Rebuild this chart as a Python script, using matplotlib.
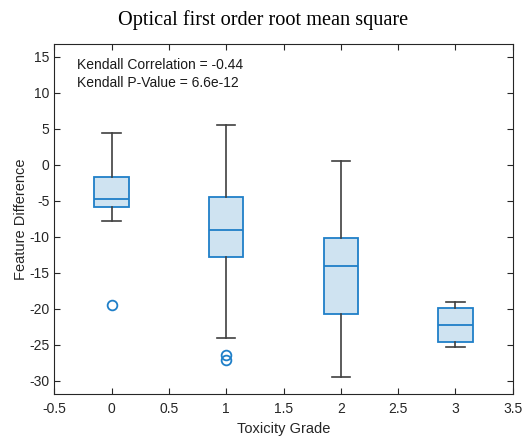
import matplotlib
matplotlib.use("Agg")
import matplotlib.pyplot as plt

# Toxicity grade groups and their box statistics
grades = [0, 1, 2, 3]
whisker_high = [4.4, 5.5, 0.55, -19.1]
upper_quartile = [-1.7, -4.45, -10.2, -19.9]
medians = [-4.8, -9.1, -14.0, -22.3]
lower_quartile = [-5.9, -12.8, -20.7, -24.6]
whisker_low = [-7.8, -24.1, -29.4, -25.3]
outliers = [[-19.4], [-26.4, -27.1], [], []]

x_ticks = [-0.5, 0, 0.5, 1, 1.5, 2, 2.5, 3, 3.5]
y_ticks = [-30, -25, -20, -15, -10, -5, 0, 5, 10, 15]

plt.rcParams['font.family'] = ['Liberation Sans', 'DejaVu Sans']
plt.rcParams['axes.unicode_minus'] = False

blue = '#1f7fc8'
fill = '#cfe3f1'
grey = '#404040'

fig = plt.figure(figsize=(5.27, 4.4), dpi=100)
ax = fig.add_axes([0.103, 0.105, 0.870, 0.795])

stats = []
for i in range(len(grades)):
    stats.append(dict(med=medians[i], q1=lower_quartile[i], q3=upper_quartile[i],
                      whislo=whisker_low[i], whishi=whisker_high[i],
                      fliers=outliers[i]))

ax.bxp(stats, positions=grades, widths=0.3, patch_artist=True,
       boxprops=dict(facecolor=fill, edgecolor=blue, linewidth=1.3),
       medianprops=dict(color=blue, linewidth=1.3),
       whiskerprops=dict(color=grey, linewidth=1.2),
       capprops=dict(color=grey, linewidth=1.2),
       capwidths=0.16,
       flierprops=dict(marker='o', markerfacecolor='none', markeredgecolor=blue,
                       markersize=7, markeredgewidth=1.3),
       manage_ticks=False)

ax.set_xlim(-0.5, 3.5)
ax.set_ylim(-31.8, 16.8)
ax.set_xticks(x_ticks)
ax.set_xticklabels([f"{t:g}" for t in x_ticks])
ax.set_yticks(y_ticks)
ax.set_yticklabels([f"{t:g}" for t in y_ticks])
ax.tick_params(direction='in', top=True, right=True, labelsize=10,
               colors='#262626', length=4, width=0.8)
ax.tick_params(axis='x', pad=6)
for s in ax.spines.values():
    s.set_color('#262626')
    s.set_linewidth(0.8)

ax.set_xlabel('Toxicity Grade', fontsize=10.5, color='#262626', labelpad=4)
ax.set_ylabel('Feature Difference', fontsize=10.5, color='#262626', labelpad=1)
fig.text(0.5, 0.955, 'Optical first order root mean square', fontsize=14.6,
         family=['Liberation Serif', 'DejaVu Serif'], ha='center', va='center')

ax.text(0.05, 0.96, 'Kendall Correlation = -0.44\nKendall P-Value = 6.6e-12',
        transform=ax.transAxes, ha='left', va='top', fontsize=10,
        linespacing=1.35, color='#1a1a1a')

fig.savefig('out.png', dpi=100)
